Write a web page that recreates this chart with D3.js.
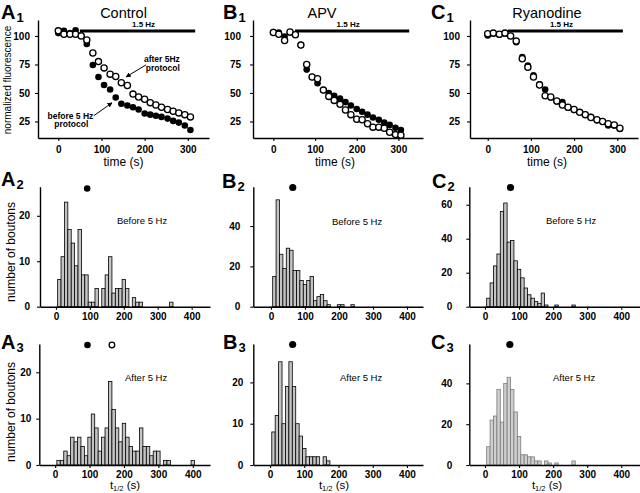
<!DOCTYPE html>
<html><head><meta charset="utf-8">
<script src="https://cdn.jsdelivr.net/npm/d3@7"></script>
<style>
body{margin:0;background:#fff}
svg{display:block}
text{font-family:"Liberation Sans",Arial,Helvetica,sans-serif;fill:#000}
</style>
</head><body>
<svg id="chart" width="640" height="493"></svg>
<script>
// ---------- DATA ----------
const timePoints = [0,13,27,40,53,66,80,93,106,120,133,146,160,173,186,200,213,226,239,253,266,279,293,306];
const timeTicks = [0,100,200,300];
const fluorTicks = [25,50,75,100];

const controlBefore = [102.5,104.5,102.5,105,100.5,93,74.5,64,57,53,46,40.5,39,37.5,35.5,32,31,30,29,27.5,25.5,24,21.5,17.5];
const controlAfter  = [104.5,101.5,101.5,101.5,100,96.5,85,77.5,72,66.5,64.5,59,56.5,49,46.5,44.5,41.5,39.5,37.5,35.5,34,32.5,31,29];
const apvBefore     = [103.5,103,99.5,103,101,92,70.5,64,58.5,52.5,50,47.5,45,42,39,36,33.5,31,28.5,26.5,24,22,19.5,17.5];
const apvAfter      = [103,101.5,96,103.5,101,92,75,64,62.5,52.5,47,43.5,40,35,31,27,26.5,23,20,20,19,15.5,13.5,13];
const ryanBefore    = [100.5,102,101,102,100,94.5,81.5,74,65.5,57.5,53,46,42.5,42,37,35,33,31,29,26,25,21.5,21.5,18.5];
const ryanAfter     = [102,102.5,101.5,102.5,100,95.5,80,72.5,64,57,47.5,46.5,43,39.5,37.5,35.5,33,31,28.5,26.5,25,23,22,19];

const stimLabel = "1.5 Hz";
const stimStart = [50,52,47];
const stimEnd   = [317,326,313];
const stimLevel = 104.4;

// histogram: bins of width 10 centred at 10, 20, 30, ...
const binCenters = d3.range(10, 420, 10);
const histTicksX = [0,100,200,300,400];
const countsA2 = [6,11,23,17,14,9,17,7,7,1,1,4,0,4,7,11,3,4,4,6,4,0,2,1,1,0,0,0,0,0,0,0,0,1];
const countsB2 = [15,53,26,19,29,28,18,18,13,11,13,15,3,5,6,3,1,0,0,1,1,0,0,1];
const countsC2 = [5,14,24,31,56,61,38,39,27,22,17,11,7,5,3,2,8,1,0,0,1,0,0,0,0,1];
const countsA3 = [1,1,3,2,6,5,6,4,2,6,11,8,3,6,8,18,12,8,5,9,6,4,3,3,8,4,4,2,3,3,0,1,1,0,0,0,0,0,0,1];
const countsB3 = [8,12,25,10,19,25,19,10,7,4,2,2,2,2,0,2,1];
const countsC3 = [9,22,24,37,21,40,43,37,26,14,5,5,4,4,2,2,0,2,1,0,1,0,0,0,0,2];
const yTicksA2 = [0,10,20], yTicksB2 = [0,20,40], yTicksC2 = [0,20,40,60];
const yTicksA3 = [0,10,20], yTicksB3 = [0,10,20], yTicksC3 = [0,20,40];
const meanBeforeA = 92, meanBeforeB = 64, meanBeforeC = 75;
const meanAfterA_before = 94, meanAfterA_after = 165, meanAfterB = 66, meanAfterC = 73;

// ---------- DRAWING ----------
const svg = d3.select("#chart");
const FONT = '"Liberation Sans",Arial,Helvetica,sans-serif';

function drawAxes(x, y, xt, yt, ypad, xpad){
  const gx = svg.append("g").attr("transform",`translate(0,${y.range()[0]})`)
    .call(d3.axisBottom(x).tickValues(xt).tickSize(3).tickSizeOuter(0).tickPadding(xpad));
  const gy = svg.append("g").attr("transform",`translate(${x.range()[0]},0)`)
    .call(d3.axisLeft(y).tickValues(yt).tickSize(3).tickSizeOuter(0).tickPadding(ypad));
  [gx,gy].forEach(g=>{
    g.attr("font-family",FONT).attr("font-size",10).attr("font-weight","bold");
    g.select(".domain").attr("stroke","#000").attr("stroke-width",1.4);
    g.selectAll(".tick line").attr("stroke","#000").attr("stroke-width",1.1);
  });
}

function panelLabel(letter, sub, x, y){
  const t = svg.append("text").attr("x",x).attr("y",y).attr("font-size",20).attr("font-weight","bold").text(letter);
  t.append("tspan").attr("font-size",13).attr("dy",3).attr("dx",1).text(sub);
}

// arrow marker
svg.append("defs").append("marker").attr("id","arr").attr("viewBox","0 0 10 10")
  .attr("refX",9).attr("refY",5).attr("markerWidth",5).attr("markerHeight",5).attr("orient","auto")
  .append("path").attr("d","M0,0 L10,5 L0,10 z").attr("fill","#000");

function timePanel(cfg){
  const x = d3.scaleLinear().domain(cfg.xd).range(cfg.xr);
  const y = d3.scaleLinear().domain([10.5,114]).range([138,20]);
  drawAxes(x,y,timeTicks,fluorTicks,cfg.ypad,5);
  svg.append("line").attr("x1",x(cfg.s0)).attr("x2",x(cfg.s1)).attr("y1",y(stimLevel)).attr("y2",y(stimLevel))
    .attr("stroke","#000").attr("stroke-width",3);
  svg.append("text").attr("x",(x(cfg.s0)+x(cfg.s1))/2+cfg.labdx).attr("y",y(stimLevel)-4)
    .attr("text-anchor","middle").attr("font-size",8).attr("font-weight","bold").text(stimLabel);
  svg.append("g").selectAll("circle").data(cfg.before).join("circle")
    .attr("cx",(d,i)=>x(timePoints[i])).attr("cy",d=>y(d)).attr("r",3.3).attr("fill","#000");
  svg.append("g").selectAll("circle").data(cfg.after).join("circle")
    .attr("cx",(d,i)=>x(timePoints[i])).attr("cy",d=>y(d)).attr("r",3.1)
    .attr("fill","#fff").attr("stroke","#000").attr("stroke-width",1.3);
  svg.append("text").attr("x",(cfg.xr[0]+cfg.xr[1])/2+cfg.tdx).attr("y",18).attr("text-anchor","middle")
    .attr("font-size",14.5).text(cfg.title);
  svg.append("text").attr("x",(cfg.xr[0]+cfg.xr[1])/2+cfg.ldx).attr("y",166).attr("text-anchor","middle")
    .attr("font-size",12).text("time (s)");
  return {x,y};
}

function histPanel(cfg){
  const x = d3.scaleLinear().domain(cfg.xd).range(cfg.xr);
  const y = d3.scaleLinear().domain(cfg.yd).range(cfg.yr);
  svg.append("g").selectAll("rect").data(cfg.counts.map((c,i)=>({c,m:binCenters[i]})).filter(d=>d.c>0)).join("rect")
    .attr("x",d=>x(d.m-5)).attr("width",d=>x(d.m+5)-x(d.m-5))
    .attr("y",d=>y(d.c)).attr("height",d=>y(0)-y(d.c))
    .attr("fill",cfg.fill||"#c4c4c4").attr("stroke",cfg.stroke||"#000").attr("stroke-width",0.8);
  drawAxes(x,y,histTicksX,cfg.yt,cfg.ypad,cfg.xpad);
  svg.append("text").attr("x",cfg.tx).attr("y",cfg.ty).attr("font-size",9.5).text(cfg.text);
  return {x,y};
}

// ---- Row 1 ----
const A1 = timePanel({xd:[-47,349], xr:[38,209], ypad:5, s0:stimStart[0], s1:stimEnd[0], labdx:6,
  before:controlBefore, after:controlAfter, title:"Control", tdx:0, ldx:0});
timePanel({xd:[-48.8,359], xr:[253,423], ypad:9, s0:stimStart[1], s1:stimEnd[1], labdx:-4,
  before:apvBefore, after:apvAfter, title:"APV", tdx:-16, ldx:-3});
timePanel({xd:[-41,348], xr:[470,638], ypad:7, s0:stimStart[2], s1:stimEnd[2], labdx:-4,
  before:ryanBefore, after:ryanAfter, title:"Ryanodine", tdx:-7, ldx:-7});

svg.append("text").attr("transform","translate(11,80) rotate(-90)").attr("text-anchor","middle")
  .attr("font-size",10).text("normalized fluorescence");

// A1 annotations (data coordinates)
const ann = svg.append("g").attr("font-size",8.5).attr("font-weight","bold").attr("text-anchor","middle");
ann.append("text").attr("x",A1.x(240)).attr("y",A1.y(77.5)).text("after 5Hz");
ann.append("text").attr("x",A1.x(242)).attr("y",A1.y(69.5)).text("protocol");
ann.append("text").attr("x",A1.x(28)).attr("y",A1.y(27.5)).text("before 5 Hz");
ann.append("text").attr("x",A1.x(30)).attr("y",A1.y(20.5)).text("protocol");
svg.append("line").attr("x1",A1.x(203)).attr("y1",A1.y(74.6)).attr("x2",A1.x(157)).attr("y2",A1.y(64.1))
  .attr("stroke","#000").attr("stroke-width",1).attr("marker-end","url(#arr)");
svg.append("line").attr("x1",A1.x(82)).attr("y1",A1.y(30)).attr("x2",A1.x(124.5)).attr("y2",A1.y(41.4))
  .attr("stroke","#000").attr("stroke-width",1).attr("marker-end","url(#arr)");

// ---- Row 2 ----
const A2 = histPanel({xd:[-47,454], xr:[40,210], yd:[0,26.4], yr:[306.7,186.7], counts:countsA2, yt:yTicksA2, ypad:7, xpad:3,
  text:"Before 5 Hz", tx:117, ty:224});
const B2 = histPanel({xd:[-52,447], xr:[253.3,423], yd:[0,59.5], yr:[306.7,186.7], counts:countsB2, yt:yTicksB2, ypad:10, xpad:3,
  text:"Before 5 Hz", tx:332, ty:225});
const C2 = histPanel({xd:[-46,455], xr:[469.3,640], yd:[0,70.6], yr:[306.7,186.7], counts:countsC2, yt:yTicksC2, ypad:14, xpad:3,
  text:"Before 5 Hz", tx:546, ty:224});
svg.append("circle").attr("cx",A2.x(meanBeforeA)).attr("cy",188.5).attr("r",3.3).attr("fill","#000");
svg.append("circle").attr("cx",B2.x(meanBeforeB)).attr("cy",187.5).attr("r",3.6).attr("fill","#000");
svg.append("circle").attr("cx",C2.x(meanBeforeC)).attr("cy",187.5).attr("r",3.6).attr("fill","#000");
svg.append("text").attr("transform","translate(15,252) rotate(-90)").attr("text-anchor","middle")
  .attr("font-size",12).text("number of boutons");

// ---- Row 3 ----
const A3 = histPanel({xd:[-46,450], xr:[39.3,210], yd:[0,26.1], yr:[465,344], counts:countsA3, yt:yTicksA3, ypad:5, xpad:3,
  text:"After 5 Hz", tx:125, ty:381});
const B3 = histPanel({xd:[-49,447], xr:[253.3,423], yd:[0,29.3], yr:[465,344], counts:countsB3, yt:yTicksB3, ypad:7, xpad:3,
  text:"After 5 Hz", tx:340, ty:381});
const C3 = histPanel({xd:[-46,455], xr:[469.3,640], yd:[0,59.3], yr:[465,344], counts:countsC3, yt:yTicksC3, ypad:14, xpad:3,
  text:"After 5 Hz", tx:553, ty:381, fill:"#cfcfcf", stroke:"#7a7a7a"});
svg.append("circle").attr("cx",A3.x(meanAfterA_before)).attr("cy",345).attr("r",3.3).attr("fill","#000");
svg.append("circle").attr("cx",A3.x(meanAfterA_after)).attr("cy",345).attr("r",2.8).attr("fill","#fff").attr("stroke","#000").attr("stroke-width",1.3);
svg.append("circle").attr("cx",B3.x(meanAfterB)).attr("cy",344.5).attr("r",3.6).attr("fill","#000");
svg.append("circle").attr("cx",C3.x(meanAfterC)).attr("cy",344.5).attr("r",3.6).attr("fill","#000");
svg.append("text").attr("transform","translate(15,412) rotate(-90)").attr("text-anchor","middle")
  .attr("font-size",12).text("number of boutons");

function tHalf(cx){
  const t = svg.append("text").attr("x",cx).attr("y",488.5).attr("text-anchor","middle").attr("font-size",11.5);
  t.append("tspan").text("t");
  t.append("tspan").attr("font-size",7.5).attr("dy",2.5).text("1/2");
  t.append("tspan").attr("dy",-2.5).text(" (s)");
}
tHalf(125); tHalf(334); tHalf(547);

// panel letters
panelLabel("A","1",1,19); panelLabel("B","1",223,19); panelLabel("C","1",431,19);
panelLabel("A","2",1,186); panelLabel("B","2",222,188); panelLabel("C","2",432,188);
panelLabel("A","3",1,349); panelLabel("B","3",223,349); panelLabel("C","3",431,349);
</script>
</body></html>
